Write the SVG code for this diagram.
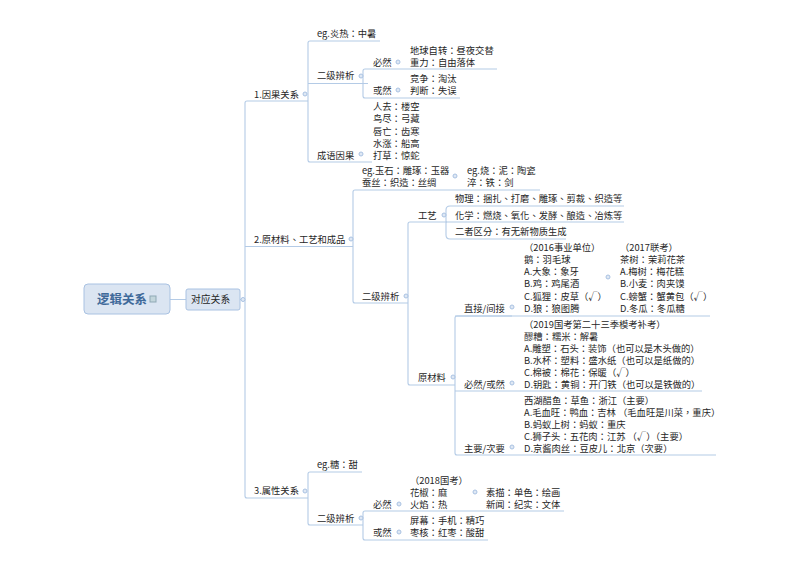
<svg xmlns="http://www.w3.org/2000/svg" width="800" height="566" viewBox="0 0 800 566">
<style>
text{font-family:"Noto Sans CJK TC","Noto Sans CJK SC","Liberation Sans",sans-serif;font-size:9.3px;fill:#262626}
.c{fill:none;stroke:#b4cbe6;stroke-width:1.1}
.d{fill:#dfe8f4;stroke:#a9c2e2;stroke-width:1}
.box{fill:#dbe5f2;stroke:#a9c2e2;stroke-width:1}
</style>
<rect width="800" height="566" fill="#fff"/>
<g id="connectors">
<path class="c" d="M170 299.500H186M240 299.500H245"/>
<path class="c" d="M245 299.500V103Q245 101 247 101H308M245 299.500V246.500H353M245 299.500V496Q245 498 247 498H308"/>
<path class="c" d="M308 101V43Q308 41 310 41H380M308 83.500H368M308 101V160Q308 162 310 162H372"/>
<path class="c" d="M363 83.500V71Q363 69 365 69H497M363 83.500V96Q363 98 365 98H460"/>
<path class="c" d="M353 246.500V192Q353 190 355 190H540M353 246.500V301Q353 303 355 303H408"/>
<path class="c" d="M408 303V224Q408 222 410 222H447M408 303V383Q408 385 410 385H455"/>
<path class="c" d="M446 222V210Q446 206 450 206H624M446 222H624M446 222V235Q446 239 450 239H566"/>
<path class="c" d="M455 385V318Q455 316 457 316H710M455 385V391H702M455 385V453Q455 455 457 455H716"/>
<path class="c" d="M455 316H512"/>
<path class="c" d="M308 498V474Q308 472 310 472H362M308 498V523Q308 525 310 525H363"/>
<path class="c" d="M363 525V513Q363 511 365 511H564M363 525V538Q363 540 365 540H488"/>
</g>
<g id="root"><rect class="box" x="84" y="284" width="86" height="30" rx="4"/><text x="97" y="304" style="font-size:12.500px;font-weight:700;fill:#3f6a9a">逻辑关系</text><rect x="150" y="296" width="6" height="6" fill="#c3d6dc" stroke="#8fa9b5" stroke-width="1"/></g>
<g id="n-corr"><rect class="box" x="186" y="289" width="54" height="21" rx="2"/><text x="191" y="303" style="font-size:9.800px">对应关系</text></g>
<g id="dots"><circle class="d" cx="243" cy="299.500" r="2"/><circle class="d" cx="305" cy="94" r="2"/><circle class="d" cx="361" cy="76" r="2"/><circle class="d" cx="398" cy="62" r="2"/><circle class="d" cx="398" cy="90" r="2"/><circle class="d" cx="361" cy="154" r="2"/><circle class="d" cx="351" cy="239" r="2"/><circle class="d" cx="455" cy="176" r="2"/><circle class="d" cx="406" cy="296" r="2"/><circle class="d" cx="444" cy="215" r="2"/><circle class="d" cx="453" cy="377" r="2"/><circle class="d" cx="512" cy="307" r="2"/><circle class="d" cx="608" cy="277" r="2"/><circle class="d" cx="512" cy="383" r="2"/><circle class="d" cx="512" cy="447" r="2"/><circle class="d" cx="305" cy="491" r="2"/><circle class="d" cx="361" cy="518" r="2"/><circle class="d" cx="399" cy="504" r="2"/><circle class="d" cx="475" cy="492" r="2"/><circle class="d" cx="399" cy="532" r="2"/></g>
<g id="n-1"><text x="254" y="98">1.因果关系</text></g>
<g id="n-2"><text x="254" y="243">2.原材料、工艺和成品</text></g>
<g id="n-3"><text x="254" y="494">3.属性关系</text></g>
<g id="n-1a"><text x="317" y="37">eg.炎热：中暑</text></g>
<g id="n-1b"><text x="317" y="79">二级辨析</text></g>
<g id="n-1b1"><text x="373" y="66">必然</text></g>
<g id="n-1b1t"><text x="410" y="54">地球自转：昼夜交替</text><text x="410" y="66">重力：自由落体</text></g>
<g id="n-1b2"><text x="373" y="94">或然</text></g>
<g id="n-1b2t"><text x="410" y="82">竞争：淘汰</text><text x="410" y="94">判断：失误</text></g>
<g id="n-1c"><text x="317" y="158.500">成语因果</text></g>
<g id="n-1ct"><text x="373" y="110">人去：楼空</text><text x="373" y="122">鸟尽：弓藏</text><text x="373" y="134.500">唇亡：齿寒</text><text x="373" y="146.500">水涨：船高</text><text x="373" y="158.500">打草：惊蛇</text></g>
<g id="n-2a"><text x="362" y="174">eg.玉石：雕琢：玉器</text><text x="362" y="186">蚕丝：织造：丝绸</text></g>
<g id="n-2a2"><text x="467" y="174">eg.烧：泥：陶瓷</text><text x="467" y="186">淬：铁：剑</text></g>
<g id="n-2b"><text x="362" y="300">二级辨析</text></g>
<g id="n-gy"><text x="418" y="218.500">工艺</text></g>
<g id="n-gyt"><text x="455" y="202">物理：捆扎、打磨、雕琢、剪裁、织造等</text><text x="455" y="219">化学：燃烧、氧化、发酵、酿造、冶炼等</text><text x="455" y="235">二者区分：有无新物质生成</text></g>
<g id="n-ycl"><text x="418" y="381">原材料</text></g>
<g id="n-zj"><text x="464" y="312">直接/间接</text></g>
<g id="n-zjt"><text x="524" y="251">（2016事业单位）</text><text x="524" y="263">鹅：羽毛球</text><text x="524" y="275">A.大象：象牙</text><text x="524" y="287">B.鸡：鸡尾酒</text><text x="524" y="299.500">C.狐狸：皮草（√）</text><text x="524" y="312">D.狼：狼图腾</text></g>
<g id="n-zjt2"><text x="620" y="251">（2017联考）</text><text x="620" y="263">茶树：茉莉花茶</text><text x="620" y="275">A.梅树：梅花糕</text><text x="620" y="287">B.小麦：肉夹馍</text><text x="620" y="299.500">C.螃蟹：蟹黄包（√）</text><text x="620" y="312">D.冬瓜：冬瓜糖</text></g>
<g id="n-br"><text x="464" y="388">必然/或然</text></g>
<g id="n-brt"><text x="524" y="328">（2019国考第二十三季模考补考）</text><text x="524" y="340">醪糟：糯米：解暑</text><text x="524" y="352">A.雕塑：石头：装饰（也可以是木头做的）</text><text x="524" y="364">B.水杯：塑料：盛水纸（也可以是纸做的）</text><text x="524" y="376">C.棉被：棉花：保暖（√）</text><text x="524" y="388">D.钥匙：黄铜：开门铁（也可以是铁做的）</text></g>
<g id="n-zy"><text x="464" y="452">主要/次要</text></g>
<g id="n-zyt"><text x="524" y="404">西湖醋鱼：草鱼：浙江（主要）</text><text x="524" y="416">A.毛血旺：鸭血：吉林 （毛血旺是川菜，重庆）</text><text x="524" y="428">B.蚂蚁上树：蚂蚁：重庆</text><text x="524" y="440">C.狮子头：五花肉：江苏 （√）（主要）</text><text x="524" y="452">D.京酱肉丝：豆皮儿：北京（次要）</text></g>
<g id="n-3a"><text x="317" y="467.500">eg.糖：甜</text></g>
<g id="n-3b"><text x="317" y="522">二级辨析</text></g>
<g id="n-3b1"><text x="373" y="508">必然</text></g>
<g id="n-3b1t"><text x="410" y="484">（2018国考）</text><text x="410" y="496">花椒：麻</text><text x="410" y="508">火焰：热</text></g>
<g id="n-3b1u"><text x="486" y="496">素描：单色：绘画</text><text x="486" y="508">新闻：纪实：文体</text></g>
<g id="n-3b2"><text x="373" y="536">或然</text></g>
<g id="n-3b2t"><text x="410" y="524">屏幕：手机：精巧</text><text x="410" y="536">枣核：红枣：酸甜</text></g>
</svg>
